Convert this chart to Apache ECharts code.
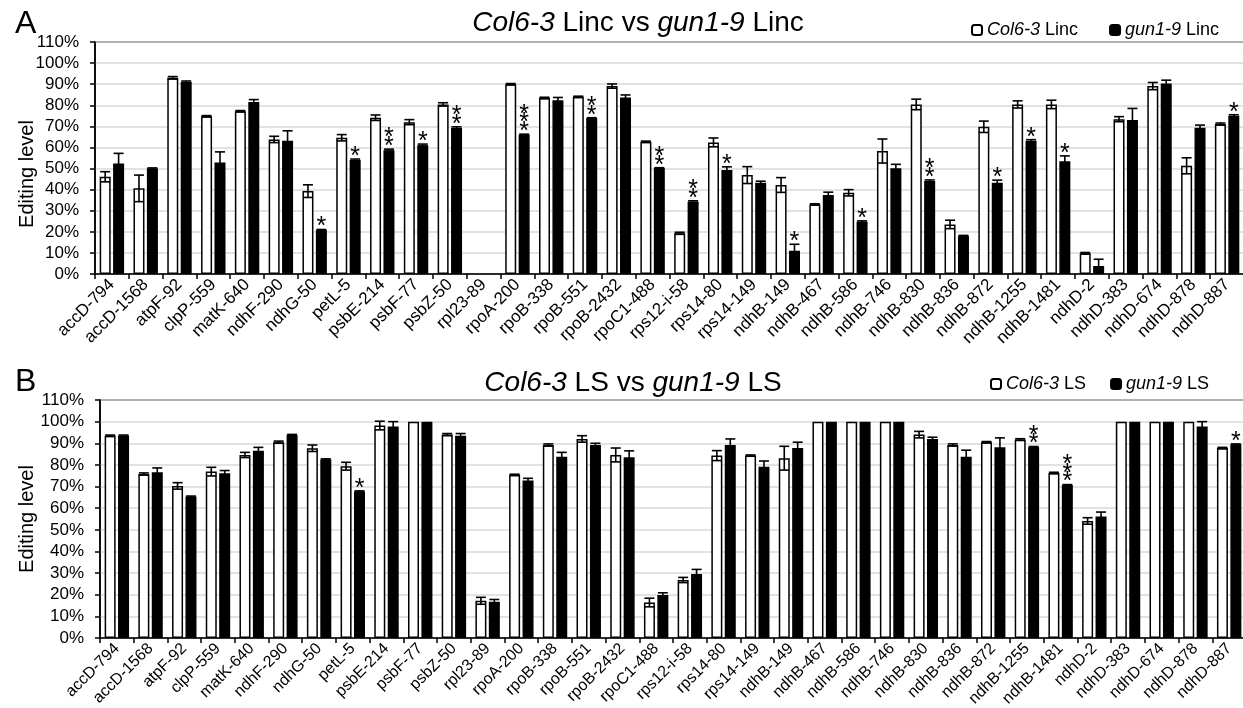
<!DOCTYPE html>
<html>
<head>
<meta charset="utf-8">
<script src="https://cdn.jsdelivr.net/npm/echarts@6/dist/echarts.min.js"></script>
<style>
  html, body { margin: 0; padding: 0; background: #fff; }
  #chart { width: 1243px; height: 708px; }
</style>
</head>
<body>
<div id="chart"></div>
<script>
// Editing sites (shared by both panels)
const sites = ['accD-794', 'accD-1568', 'atpF-92', 'clpP-559', 'matK-640', 'ndhF-290', 'ndhG-50',
  'petL-5', 'psbE-214', 'psbF-77', 'psbZ-50', 'rpl23-89', 'rpoA-200', 'rpoB-338', 'rpoB-551',
  'rpoB-2432', 'rpoC1-488', 'rps12-i-58', 'rps14-80', 'rps14-149', 'ndhB-149', 'ndhB-467',
  'ndhB-586', 'ndhB-746', 'ndhB-830', 'ndhB-836', 'ndhB-872', 'ndhB-1255', 'ndhB-1481',
  'ndhD-2', 'ndhD-383', 'ndhD-674', 'ndhD-878', 'ndhD-887'];

// Panel A: Linc, editing level (%) and error
const lincCol    = [46.1, 40.6, 93.0, 74.8, 77.2, 63.8, 39.3, 64.6, 74.1, 72.0, 80.4, null, 90.0, 83.5, 84.0, 89.1, 62.7, 19.3, 62.4, 46.9, 42.2, 33.0, 38.5, 58.3, 80.4, 23.5, 69.8, 80.4, 80.4, 9.8, 73.4, 89.1, 51.3, 71.1];
const lincColErr = [2.4, 6.3, 0.6, 0.3, 0.3, 1.5, 3.0, 1.5, 1.3, 1.2, 0.8, null, 0.3, 0.3, 0.3, 1.0, 0.3, 0.5, 2.1, 4.0, 3.5, 0.3, 1.5, 5.7, 2.5, 2.0, 2.7, 1.7, 2.0, 0.4, 1.2, 1.7, 3.8, 0.5];
const lincGun    = [52.4, 50.0, 91.0, 52.9, 81.6, 63.2, 20.8, 54.0, 58.7, 61.1, 69.3, null, 66.0, 82.4, 73.8, 83.7, 50.1, 34.3, 49.3, 43.3, 11.0, 37.4, 24.8, 50.1, 44.1, 18.0, 43.3, 63.2, 53.5, 3.8, 73.0, 90.3, 69.3, 75.0];
const lincGunErr = [4.8, 0.3, 0.5, 5.0, 1.1, 4.7, 0.3, 0.5, 0.5, 0.5, 0.5, null, 0.3, 1.3, 0.3, 1.2, 0.3, 0.4, 1.5, 0.7, 3.1, 1.4, 0.4, 1.9, 0.5, 0.3, 1.2, 0.5, 2.5, 3.2, 5.5, 1.6, 1.3, 0.5];
const lincStars  = [0, 0, 0, 0, 0, 0, 1, 1, 2, 1, 2, 0, 3, 0, 2, 0, 2, 2, 1, 0, 1, 0, 1, 0, 2, 0, 1, 1, 1, 0, 0, 0, 0, 1];

// Panel B: LS, editing level (%) and error
const lsCol    = [93.5, 75.8, 70.3, 76.9, 84.6, 90.5, 87.7, 79.4, 98.2, 100, 94.0, 17.2, 75.4, 89.2, 92.0, 84.6, 16.4, 26.8, 84.3, 84.3, 83.1, 100, 100, 100, 94.0, 89.2, 90.5, 91.7, 76.3, 54.1, 100, 100, 100, 87.8];
const lsColErr = [0.3, 0.5, 1.5, 2.0, 1.2, 0.5, 1.5, 1.8, 2.0, 0, 0.5, 1.6, 0.3, 0.5, 1.5, 3.2, 2.0, 1.2, 2.3, 0.3, 5.5, 0, 0, 0, 1.5, 0.5, 0.3, 0.4, 0.3, 1.5, 0, 0, 0, 0.3];
const lsGun    = [93.5, 76.6, 65.3, 76.2, 86.6, 93.8, 82.5, 67.7, 97.8, 100, 93.5, 16.8, 72.8, 83.8, 89.2, 83.5, 19.9, 29.6, 89.2, 79.2, 87.8, 100, 100, 100, 92.0, 83.8, 88.2, 88.2, 70.6, 56.2, 100, 100, 97.8, 89.4];
const lsGunErr = [0.3, 2.0, 0.3, 1.2, 1.5, 0.3, 0.3, 0.3, 2.2, 0, 1.0, 1.0, 1.0, 2.0, 0.8, 3.0, 1.0, 2.1, 2.8, 2.6, 2.7, 0, 0, 0, 0.8, 3.0, 4.3, 0.3, 0.3, 2.0, 0, 0, 2.2, 0.3];
const lsStars  = [0, 0, 0, 0, 0, 0, 0, 1, 0, 0, 0, 0, 0, 0, 0, 0, 0, 0, 0, 0, 0, 0, 0, 0, 0, 0, 0, 2, 3, 0, 0, 0, 0, 1];

const FONT = '"Liberation Sans", Arial, Helvetica, sans-serif';
const BAR_W = 11;
const BAR_GAP = 0.22;
const OFFSET = (BAR_W + BAR_W * BAR_GAP) / 2;   // distance of each bar centre from the category centre

function errorBars(offset) {
  return function (params, api) {
    const idx = api.value(0), v = api.value(1), e = api.value(2);
    if (isNaN(v) || !(e > 0)) return null;
    const cx = api.coord([idx, v])[0] + offset;
    const yHi = api.coord([idx, v + e])[1];
    const yLo = api.coord([idx, v - e])[1];
    const half = 5;
    const style = { stroke: '#000', lineWidth: 1.6 };
    return {
      type: 'group',
      children: [
        { type: 'line', shape: { x1: cx, y1: yHi, x2: cx, y2: yLo }, style },
        { type: 'line', shape: { x1: cx - half, y1: yHi, x2: cx + half, y2: yHi }, style },
        { type: 'line', shape: { x1: cx - half, y1: yLo, x2: cx + half, y2: yLo }, style }
      ]
    };
  };
}

function starMarks(offset) {
  return function (params, api) {
    const idx = api.value(0), top = api.value(1), n = api.value(2);
    if (!(n > 0)) return null;
    const p = api.coord([idx, top]);
    const children = [];
    for (let k = 0; k < n; k++) {
      children.push({
        type: 'text',
        x: p[0] + offset,
        y: p[1] - 7 - k * 8.7 + 5,
        style: {
          text: '*', fontSize: 25, fontFamily: FONT, fill: '#000',
          textAlign: 'center', textVerticalAlign: 'middle',
          align: 'center', verticalAlign: 'middle'
        }
      });
    }
    return { type: 'group', children };
  };
}

function errData(vals, errs) {
  return vals.map((v, i) => [i, v == null ? NaN : v, errs[i] == null ? 0 : errs[i]]);
}
function starData(vals, errs, stars) {
  return vals.map((v, i) => [i, (v == null ? 0 : v) + (errs[i] || 0), stars[i]]);
}

const italicRich = { i: { fontStyle: 'italic', fontFamily: FONT, fontSize: 28, color: '#000' } };
const legendRich = { i: { fontStyle: 'italic', fontFamily: FONT, fontSize: 18, color: '#000' } };

function xAxisFor(gridIndex, size) {
  return {
    type: 'category', gridIndex, data: sites,
    axisLine: { show: true, lineStyle: { color: '#000', width: 1.5 } },
    axisTick: { show: true, length: 5, lineStyle: { color: '#000', width: 1.5 } },
    axisLabel: { interval: 0, rotate: 45, fontSize: size, fontFamily: FONT, color: '#000', margin: 8 },
    splitLine: { show: false }
  };
}
function yAxisFor(gridIndex, gap, pad) {
  return {
    type: 'value', gridIndex, min: 0, max: 110, interval: 10,
    name: 'Editing level', nameLocation: 'middle', nameGap: gap, nameMoveOverlap: false,
    nameTextStyle: { fontSize: 20, fontFamily: FONT, color: '#000', padding: pad },
    axisLine: { show: true, lineStyle: { color: '#000', width: 1.5 } },
    axisTick: { show: true, length: 5, lineStyle: { color: '#000', width: 1.5 } },
    axisLabel: { formatter: '{value}%', fontSize: 17, fontFamily: FONT, color: '#000', margin: 16 },
    splitLine: { show: true, lineStyle: { color: '#d9d9d9', width: 1.5 } }
  };
}

function barSeries(name, data, fill, axis) {
  return {
    name, type: 'bar', data, xAxisIndex: axis, yAxisIndex: axis,
    barWidth: BAR_W, barGap: (BAR_GAP * 100) + '%',
    itemStyle: { color: fill, borderColor: '#000', borderWidth: 1.5 },
    emphasis: { disabled: true }, z: 2
  };
}
function customSeries(data, render, axis) {
  return {
    type: 'custom', data, renderItem: render, xAxisIndex: axis, yAxisIndex: axis,
    encode: { x: 0, y: 1 }, z: 5, silent: true
  };
}

const legendFmt = name => name.replace(/^(\S+)/, '{i|$1}');

const option = {
  animation: false,
  backgroundColor: '#fff',
  title: [
    { text: 'A', left: 10, top: 3, textStyle: { fontSize: 32, fontWeight: 'normal', fontFamily: FONT, color: '#000' } },
    { text: '{i|Col6-3} Linc vs {i|gun1-9} Linc', left: 633, textAlign: 'center', top: 4,
      textStyle: { fontSize: 28, fontWeight: 'normal', fontFamily: FONT, color: '#000', rich: italicRich } },
    { text: 'B', left: 10, top: 361, textStyle: { fontSize: 32, fontWeight: 'normal', fontFamily: FONT, color: '#000' } },
    { text: '{i|Col6-3} LS vs {i|gun1-9} LS', left: 628, textAlign: 'center', top: 364,
      textStyle: { fontSize: 28, fontWeight: 'normal', fontFamily: FONT, color: '#000', rich: italicRich } }
  ],
  legend: [
    { data: ['Col6-3 Linc', 'gun1-9 Linc'], left: 966, top: 16, itemWidth: 10, itemHeight: 10, itemGap: 31,
      formatter: legendFmt, selectedMode: false,
      textStyle: { fontSize: 18, fontFamily: FONT, color: '#000', rich: legendRich } },
    { data: ['Col6-3 LS', 'gun1-9 LS'], left: 985, top: 370, itemWidth: 10, itemHeight: 10, itemGap: 24,
      formatter: legendFmt, selectedMode: false,
      textStyle: { fontSize: 18, fontFamily: FONT, color: '#000', rich: legendRich } }
  ],
  grid: [
    { left: 95, top: 42, width: 1149, height: 232, show: true, borderColor: '#000', borderWidth: 1.5,
      backgroundColor: 'transparent', containLabel: false, outerBoundsMode: 'none' },
    { left: 100, top: 400, width: 1146, height: 238, show: true, borderColor: '#000', borderWidth: 1.5,
      backgroundColor: 'transparent', containLabel: false, outerBoundsMode: 'none' }
  ],
  xAxis: [xAxisFor(0, 17), xAxisFor(1, 16)],
  yAxis: [yAxisFor(0, 58, [0, 32, 0, 0]), yAxisFor(1, 63, 0)],
  series: [
    barSeries('Col6-3 Linc', lincCol, '#fff', 0),
    barSeries('gun1-9 Linc', lincGun, '#000', 0),
    customSeries(errData(lincCol, lincColErr), errorBars(-OFFSET), 0),
    customSeries(errData(lincGun, lincGunErr), errorBars(OFFSET), 0),
    customSeries(starData(lincGun, lincGunErr, lincStars), starMarks(OFFSET), 0),
    barSeries('Col6-3 LS', lsCol, '#fff', 1),
    barSeries('gun1-9 LS', lsGun, '#000', 1),
    customSeries(errData(lsCol, lsColErr), errorBars(-OFFSET), 1),
    customSeries(errData(lsGun, lsGunErr), errorBars(OFFSET), 1),
    customSeries(starData(lsGun, lsGunErr, lsStars), starMarks(OFFSET), 1)
  ]
};

const chart = echarts.init(document.getElementById('chart'), null, { renderer: 'canvas' });
chart.setOption(option);
</script>
</body>
</html>
